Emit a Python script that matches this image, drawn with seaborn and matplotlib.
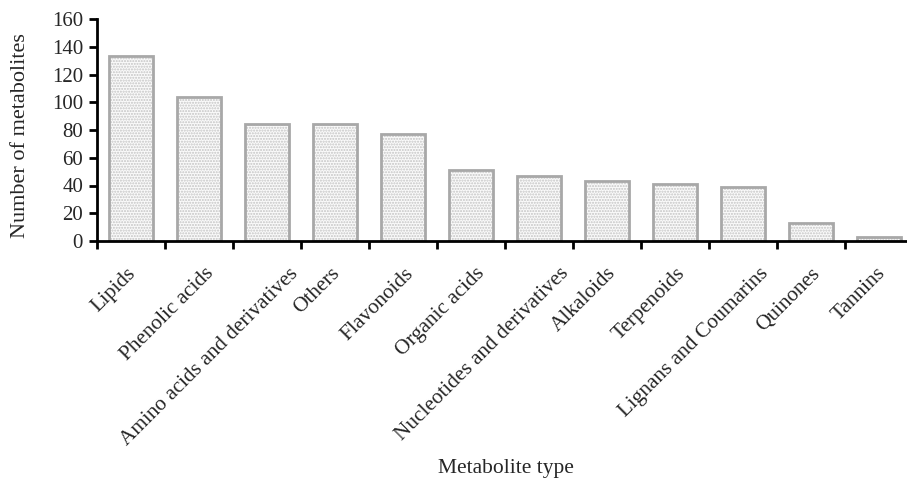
import matplotlib
matplotlib.use("Agg")
import matplotlib.pyplot as plt
import matplotlib.transforms as mtransforms
from matplotlib.font_manager import FontProperties
import seaborn as sns
import pandas as pd
import numpy as np
from matplotlib.ticker import FixedLocator

categories = ["Lipids", "Phenolic acids", "Amino acids and derivatives", "Others",
              "Flavonoids", "Organic acids", "Nucleotides and derivatives", "Alkaloids",
              "Terpenoids", "Lignans and Coumarins", "Quinones", "Tannins"]
counts = [133, 104, 84, 84, 77, 51, 47, 43, 41, 39, 13, 3]
yticks = [0, 20, 40, 60, 80, 100, 120, 140, 160]

sns.set_style("ticks")
plt.rcParams['font.family'] = ['Liberation Serif', 'DejaVu Serif']
plt.rcParams['hatch.linewidth'] = 1.0

df = pd.DataFrame({"type": categories, "count": counts})

fig = plt.figure(figsize=(9.07, 4.82), dpi=100)
ax = fig.add_axes([97/907, 1-241/482, (913-97)/907, 222/482])

# hatched fill layer
sns.barplot(data=df, x="type", y="count", ax=ax, color="#fafafa", width=0.65,
            saturation=1, edgecolor="#c4c4c4", linewidth=0)
for p in ax.patches:
    p.set_hatch("......")
# outline layer
sns.barplot(data=df, x="type", y="count", ax=ax, fill=False, width=0.65,
            edgecolor="#a8a8a8", linewidth=2.0)

ax.set_xlim(-0.5, 11.5)
ax.set_ylim(0, 160)
ax.set_yticks(yticks)
ax.set_yticklabels([str(v) for v in yticks], fontsize=15)
ax.set_xticks(range(len(categories)))
ax.set_xticklabels([])
ax.tick_params(axis="x", which="major", length=0)
ax.xaxis.set_minor_locator(FixedLocator(np.arange(-0.5, 12, 1)))
ax.tick_params(axis="x", which="minor", length=6, width=2, color="black")
ax.tick_params(axis="y", length=6, width=2, color="black", pad=4)

for s in ["top", "right"]:
    ax.spines[s].set_visible(False)
for s in ["left", "bottom"]:
    ax.spines[s].set_linewidth(2)
    ax.spines[s].set_color("black")

# rotated category labels
fp = FontProperties(family=['Liberation Serif', 'DejaVu Serif'], size=15.3)
renderer = fig.canvas.get_renderer()
blend = mtransforms.blended_transform_factory(ax.transData, ax.transAxes)
for i, name in enumerate(categories):
    w, h, d = renderer.get_text_width_height_descent(name, fp, ismath=False)
    dx_px = 0.137 * w - 12
    dy_px = -23
    off = mtransforms.ScaledTranslation(dx_px / 100, dy_px / 100, fig.dpi_scale_trans)
    ax.text(i, 0, name, transform=blend + off, rotation=45, rotation_mode="anchor",
            ha="right", va="top", fontproperties=fp, clip_on=False)

ax.set_xlabel("Metabolite type", fontsize=15.5)
ax.set_ylabel("Number of metabolites", fontsize=16)
ax.yaxis.set_label_coords((30-97)/816, (241-136)/222)
ax.xaxis.set_label_coords((506-97)/816, -(459-241)/222)

fig.savefig("out.png", dpi=100)
